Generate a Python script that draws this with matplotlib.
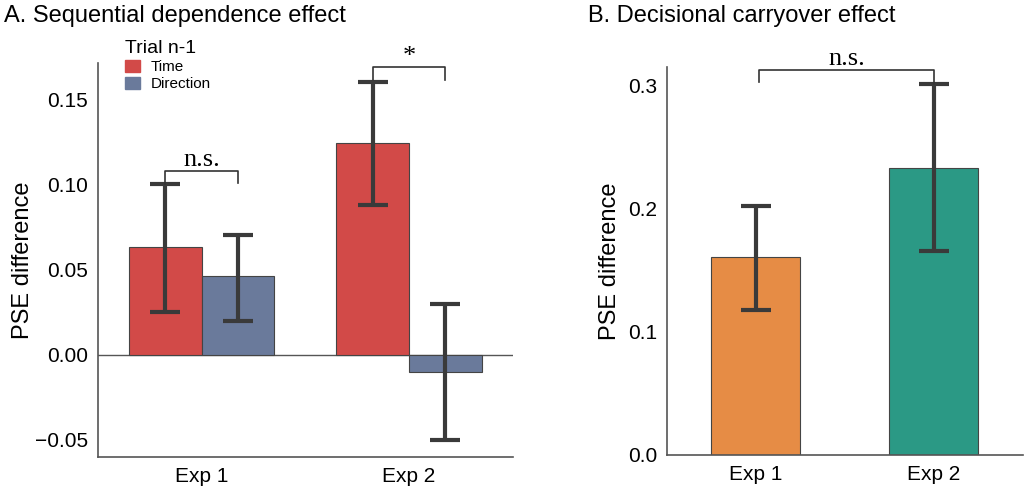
import matplotlib
matplotlib.use("Agg")
import matplotlib.pyplot as plt
from matplotlib.patches import Patch
import numpy as np

plt.rcParams["font.family"] = ["Liberation Sans", "DejaVu Sans"]

# panel A data
exps = ["Exp 1", "Exp 2"]
time_mean = [0.063, 0.124]
time_lo = [0.025, 0.088]
time_hi = [0.100, 0.160]
dir_mean = [0.046, -0.010]
dir_lo = [0.020, -0.050]
dir_hi = [0.070, 0.030]

# panel B data
carry_mean = [0.161, 0.233]
carry_lo = [0.118, 0.166]
carry_hi = [0.202, 0.301]

red = "#d24a48"
blue = "#6a7a9b"
orange = "#e68c45"
teal = "#2b9985"
ecol = "#3a3a3a"
spine_col = "#555555"

fig = plt.figure(figsize=(10.24, 4.86), dpi=100)
axA = fig.add_axes([0.0957, 0.0597, 0.405, 0.810])
axB = fig.add_axes([0.651, 0.0638, 0.348, 0.798])

def style(ax):
    for s in ["top", "right"]:
        ax.spines[s].set_visible(False)
    for s in ["left", "bottom"]:
        ax.spines[s].set_color(spine_col)
        ax.spines[s].set_linewidth(1.2)
    ax.tick_params(length=0, labelsize=15, pad=7)

def bracket(ax, x1, x2, ytop, y1, y2, txt, tsize, toff):
    ax.plot([x1, x1, x2, x2], [y1, ytop, ytop, y2], color="#333333", lw=1.2)
    ax.text((x1 + x2) / 2, ytop + toff, txt, ha="center", va="bottom",
            family=["Liberation Serif", "DejaVu Serif"], fontsize=tsize)

# ---- panel A
x = np.arange(len(exps))
w = 0.35
err_kw = dict(ecolor=ecol, elinewidth=3, capsize=11, capthick=3)
tm = np.array(time_mean)
dm = np.array(dir_mean)
axA.bar(x - w / 2, tm, w, color=red, edgecolor="#444444", linewidth=0.8,
        yerr=[tm - np.array(time_lo), np.array(time_hi) - tm], error_kw=err_kw)
axA.bar(x + w / 2, dm, w, color=blue, edgecolor="#444444", linewidth=0.8,
        yerr=[dm - np.array(dir_lo), np.array(dir_hi) - dm], error_kw=err_kw)
axA.axhline(0, color=spine_col, lw=1.0, zorder=0.5)
axA.set_xlim(-0.5, 1.5)
axA.set_ylim(-0.06, 0.171)
axA.set_xticks(x)
axA.set_xticklabels(exps)
axA.set_yticks([-0.05, 0.0, 0.05, 0.10, 0.15])
axA.set_yticklabels(["\u22120.05", "0.00", "0.05", "0.10", "0.15"])
axA.set_ylabel("PSE difference", fontsize=17, labelpad=1)
style(axA)
bracket(axA, -w / 2, w / 2, 0.108, 0.100, 0.101, "n.s.", 19, 0.0)
bracket(axA, 1 - w / 2, 1 + w / 2, 0.169, 0.161, 0.161, "*", 19, -0.001)
leg = axA.legend(handles=[Patch(color=red, label="Time"), Patch(color=blue, label="Direction")],
                 title="Trial n-1", loc="upper left", bbox_to_anchor=(0.05, 1.075),
                 frameon=False, fontsize=11, title_fontsize=14,
                 handlelength=1.0, handleheight=0.8, handletextpad=0.7,
                 labelspacing=0.2, borderaxespad=0)
leg._legend_box.align = "left"

# ---- panel B
xb = np.arange(len(exps))
cm = np.array(carry_mean)
axB.bar(xb, cm, 0.5, color=[orange, teal], edgecolor="#444444", linewidth=0.8,
        yerr=[cm - np.array(carry_lo), np.array(carry_hi) - cm], error_kw=err_kw)
axB.set_xlim(-0.5, 1.5)
axB.set_ylim(0, 0.315)
axB.set_xticks(xb)
axB.set_xticklabels(exps)
axB.set_yticks([0.0, 0.1, 0.2, 0.3])
axB.set_ylabel("PSE difference", fontsize=17, labelpad=5)
style(axB)
bracket(axB, 0.02, 1.0, 0.313, 0.303, 0.301, "n.s.", 19, 0.0)

fig.text(0.004, 0.968, "A. Sequential dependence effect", fontsize=17, va="center")
fig.text(0.574, 0.968, "B. Decisional carryover effect", fontsize=17, va="center")

fig.savefig("out.png", dpi=100, facecolor="white")
